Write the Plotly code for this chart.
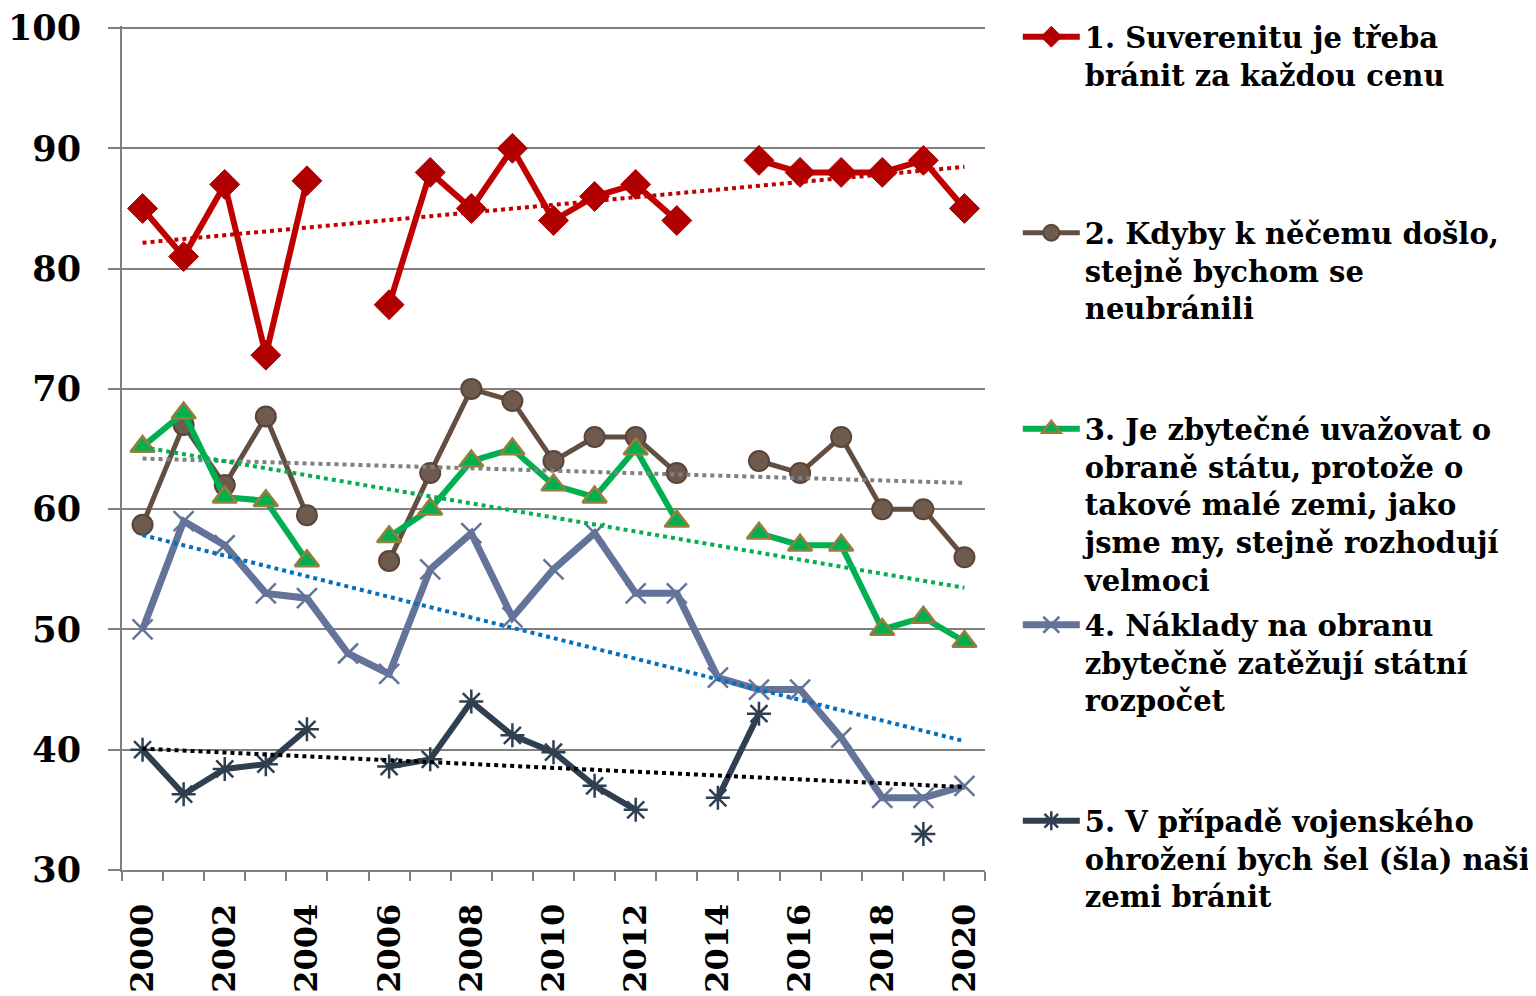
import numpy as np
import plotly.graph_objects as go

years = list(range(2000, 2021))

s1 = [85, 81, 87, 72.8, 87.3, None, 77, 88, 85, 90, 84, 86, 87, 84, None, 89, 88, 88, 88, 89, 85]
s2 = [58.7, 67, 62, 67.7, 59.5, None, 55.7, 63, 70, 69, 64, 66, 66, 63, None, 64, 63, 66, 60, 60, 56]
s3 = [65.2, 68, 61, 60.7, 55.7, None, 57.7, 60, 64, 65, 62, 61, 65, 59, None, 58, 57, 57, 50, 51, 49]
s4 = [50, 59, 57, 53, 52.6, 48, 46.3, 55, 58, 51, 55, 58, 53, 53, 46, 45, 45, 41, 36, 36, 37]
s5 = [40, 36.3, 38.4, 38.8, 41.7, None, 38.6, 39.2, 44, 41.2, 39.8, 37, 35, None, 36, 43, None, None, None, 33, None]

names = [
    "1. Suverenitu je třeba<br>bránit za každou cenu",
    "2. Kdyby k něčemu došlo,<br>stejně bychom se<br>neubránili",
    "3. Je zbytečné uvažovat o<br>obraně státu, protože o<br>takové malé zemi, jako<br>jsme my, stejně rozhodují<br>velmoci",
    "4. Náklady na obranu<br>zbytečně zatěžují státní<br>rozpočet",
    "5. V případě vojenského<br>ohrožení bych šel (šla) naši<br>zemi bránit",
]

y_ticks = [30, 40, 50, 60, 70, 80, 90, 100]
x_ticks = list(range(2000, 2021, 2))

series = [s1, s2, s3, s4, s5]
line_colors = ["#c00000", "#634e42", "#00b050", "#647399", "#2f3f50"]
line_widths = [6, 5, 6, 7, 6]
markers = [
    dict(symbol="diamond", size=23, color="#b00000", line=dict(color="#b00000", width=1)),
    dict(symbol="circle", size=20, color="#6f5a4e", line=dict(color="#5a4538", width=2)),
    dict(symbol="triangle-up", size=21, color="#00b050", line=dict(color="#9c7c3c", width=2.5)),
    dict(symbol="x-thin-open", size=20, color="#647399", line=dict(color="#647399", width=2.5)),
    dict(symbol="asterisk-open", size=20, color="#2f3f50", line=dict(color="#2f3f50", width=2.5)),
]
trend_colors = ["#c00000", "#808080", "#00b050", "#0070c0", "#000000"]

FONT = "DejaVu Serif"
LEG_LINES = 5

fig = go.Figure()

for i, (vals, nm) in enumerate(zip(series, names)):
    nlines = nm.count("<br>") + 1
    pad = "" if i == len(series) - 1 else "<br> " * (LEG_LINES - nlines)
    fig.add_trace(go.Scatter(
        x=years, y=vals, mode="lines+markers", name=nm + pad,
        line=dict(color=line_colors[i], width=line_widths[i]),
        marker=markers[i], connectgaps=False, legendgroup=f"g{i}",
    ))

# linear trendlines (least-squares over available values)
for i, vals in enumerate(series):
    xs = np.array([y for y, v in zip(years, vals) if v is not None], dtype=float)
    ys = np.array([v for v in vals if v is not None], dtype=float)
    k, q = np.polyfit(xs, ys, 1)
    tx = np.array([years[0], years[-1]], dtype=float)
    fig.add_trace(go.Scatter(
        x=tx, y=k * tx + q, mode="lines", showlegend=False, hoverinfo="skip",
        line=dict(color=trend_colors[i], width=4, dash="dot"),
    ))

# the page body adds an 8px offset; margins compensate for it
fig.update_layout(
    width=1536, height=996,
    margin=dict(l=114, r=559, t=18, b=134, autoexpand=False),
    paper_bgcolor="white", plot_bgcolor="white",
    font=dict(family=FONT, color="black"),
    showlegend=True,
    legend=dict(
        x=1.038, y=1.0173, xanchor="left", yanchor="top",
        font=dict(family=FONT, size=29, color="black", weight="bold"),
        valign="top", itemwidth=57, tracegroupgap=4.5,
        bgcolor="rgba(0,0,0,0)", maxheight=990,
    ),
    xaxis=dict(
        range=[1999.5, 2020.5], tickmode="array", tickvals=x_ticks,
        ticktext=[str(t) for t in x_ticks], tickangle=-90,
        tickfont=dict(family=FONT, size=32, color="black", weight="bold"),
        showgrid=False, zeroline=False, showline=True, linecolor="#808080", linewidth=2,
        ticks="", ticklen=0, automargin=False, ticklabelstandoff=19, ticklabeloverflow="allow",
        minor=dict(ticks="outside", tick0=1999.5, dtick=1, ticklen=9, tickcolor="#808080", tickwidth=2, showgrid=False),
    ),
    yaxis=dict(
        range=[30, 100.17], tickmode="array", tickvals=y_ticks,
        tickfont=dict(family=FONT, size=35, color="black", weight="bold"),
        showgrid=True, gridcolor="#808080", gridwidth=2, zeroline=False,
        showline=True, linecolor="#808080", linewidth=2, automargin=False,
        ticks="outside", ticklen=12, tickcolor="#808080", tickwidth=2, ticklabelstandoff=20,
        ticklabeloverflow="allow",
    ),
)

fig.write_html("out.html")
